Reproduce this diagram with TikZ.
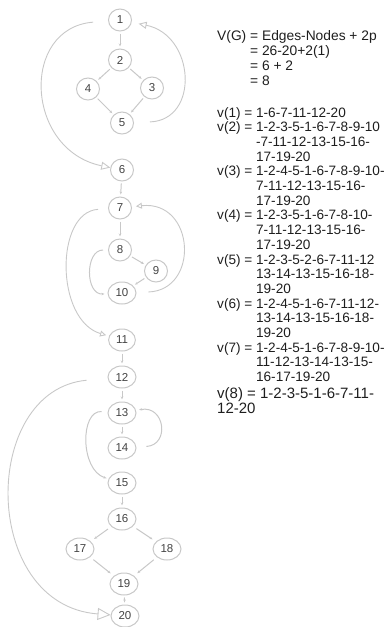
\documentclass[tikz,border=0pt]{standalone}
\usepackage{fontspec}
\setmainfont{Liberation Sans}
\usetikzlibrary{arrows.meta,shapes.geometric}
\definecolor{trait}{HTML}{C8C8C8}
\definecolor{chiffre}{HTML}{444444}
\definecolor{texte}{HTML}{1E1E1E}

\begin{document}
\begin{tikzpicture}[x=1pt,y=1pt,
  noeud/.style={ellipse,draw=trait,line width=1pt,text=chiffre,fill=white,
    minimum width=23pt,minimum height=22pt,inner xsep=3.5pt,inner ysep=1pt,
    font=\fontsize{11.5}{12}\selectfont},
  arc/.style={draw=trait,line width=1pt,shorten <=2pt,shorten >=2pt,
    -{Stealth[open,length=3pt,width=2.5pt]}},
  boucle/.style={draw=trait,line width=0.9pt,-{Triangle[open,length=6pt,width=6pt]}},
  ligne/.style={text=texte,inner sep=0pt,anchor=base west,
    font=\fontsize{13.6}{14.7}\selectfont}]
\useasboundingbox (0,0) rectangle (385,-627);

%les noeuds
\node[noeud] (n1) at (120,-20) {1};
\node[noeud] (n2) at (120,-60) {2};
\node[noeud] (n3) at (152,-88) {3};
\node[noeud] (n4) at (88,-89) {4};
\node[noeud] (n5) at (122,-123) {5};
\node[noeud] (n6) at (122,-170) {6};
\node[noeud] (n7) at (120,-208) {7};
\node[noeud] (n8) at (120,-250) {8};
\node[noeud] (n9) at (156,-271) {9};
\node[noeud] (n10) at (122,-293) {10};
\node[noeud] (n11) at (122,-340) {11};
\node[noeud] (n12) at (122,-377) {12};
\node[noeud] (n13) at (122,-413) {13};
\node[noeud] (n14) at (122,-448) {14};
\node[noeud] (n15) at (122,-483) {15};
\node[noeud] (n16) at (122,-519) {16};
\node[noeud] (n17) at (80,-549) {17};
\node[noeud] (n18) at (167,-549) {18};
\node[noeud] (n19) at (124,-584) {19};
\node[noeud] (n20) at (125,-616) {20};

%arcs droits
\draw[arc] (n1) -- (n2);
\draw[arc] (n2) -- (n3);
\draw[arc] (n2) -- (n4);
\draw[arc] (n3) -- (n5);
\draw[arc] (n4) -- (n5);
\draw[arc] (n6) -- (n7);
\draw[arc] (n7) -- (n8);
\draw[arc] (n8) -- (n9);
\draw[arc] (n9) -- (n10);
\draw[arc] (n11) -- (n12);
\draw[arc] (n12) -- (n13);
\draw[arc] (n13) -- (n14);
\draw[arc] (n15) -- (n16);
\draw[arc,shorten <=4pt,shorten >=4pt] (n16) -- (n17);
\draw[arc,shorten <=4pt,shorten >=4pt] (n16) -- (n18);
\draw[arc,shorten <=4pt,shorten >=4pt] (n17) -- (n19);
\draw[arc,shorten <=4pt,shorten >=4pt] (n18) -- (n19);
\draw[arc] (n19) -- (n20);

%boucles
\draw[boucle,shorten <=15pt,-{Triangle[open,length=9pt,width=8pt]}] (n1) .. controls (20,-28) and (25,-150) .. (n6);
\draw[boucle,shorten <=16pt,shorten >=7pt,-{Triangle[open,length=8pt,width=7pt]}] (n5) .. controls (200,-120) and (195,-35) .. (n1);
\draw[boucle,shorten <=10pt,shorten >=3pt] (n7) .. controls (55,-212) and (55,-320) .. (n11);
\draw[boucle,shorten <=12pt,shorten >=4pt] (n10) .. controls (200,-290) and (195,-200) .. (n7);
\draw[arc,shorten <=5pt,shorten >=3pt] (n8) .. controls (85,-250) and (85,-295) .. (n10);
\draw[arc,shorten <=10pt,shorten >=3pt] (n14) .. controls (170,-445) and (165,-405) .. (n13);
\draw[arc,shorten <=6pt,shorten >=2pt] (n13) .. controls (80,-410) and (80,-470) .. (n15);
\draw[boucle,shorten <=21pt,-{Triangle[open,length=13pt,width=12pt]}] (n12) .. controls (-20,-390) and (-20,-605) .. (n20);

%complexite cyclomatique
\node[ligne,font=\fontsize{13.8}{15.2}\selectfont] (vg) at (217,-40) {\begin{tabular}[t]{@{}r@{ }l@{}}
V(G) & = Edges-Nodes + 2p\\
 & = 26-20+2(1)\\
 & = 6 + 2\\
 & = 8
\end{tabular}};

%chemins
\node[ligne] (chemins) at (217,-117) {\begin{tabular}[t]{@{}l@{ }l@{}}
v(1) = & 1-6-7-11-12-20\\
v(2) = & 1-2-3-5-1-6-7-8-9-10\\
 & -7-11-12-13-15-16-\\
 & 17-19-20\\
v(3) = & 1-2-4-5-1-6-7-8-9-10-\\
 & 7-11-12-13-15-16-\\
 & 17-19-20\\
v(4) = & 1-2-3-5-1-6-7-8-10-\\
 & 7-11-12-13-15-16-\\
 & 17-19-20\\
v(5) = & 1-2-3-5-2-6-7-11-12\\
 & 13-14-13-15-16-18-\\
 & 19-20\\
v(6) = & 1-2-4-5-1-6-7-11-12-\\
 & 13-14-13-15-16-18-\\
 & 19-20\\
v(7) = & 1-2-4-5-1-6-7-8-9-10-\\
 & 11-12-13-14-13-15-\\
 & 16-17-19-20
\end{tabular}};
\node[ligne,font=\fontsize{15}{15.5}\selectfont] (v8) at (217,-398) {\begin{tabular}[t]{@{}l@{}}
v(8) = 1-2-3-5-1-6-7-11-\\
12-20
\end{tabular}};
\end{tikzpicture}
\end{document}
